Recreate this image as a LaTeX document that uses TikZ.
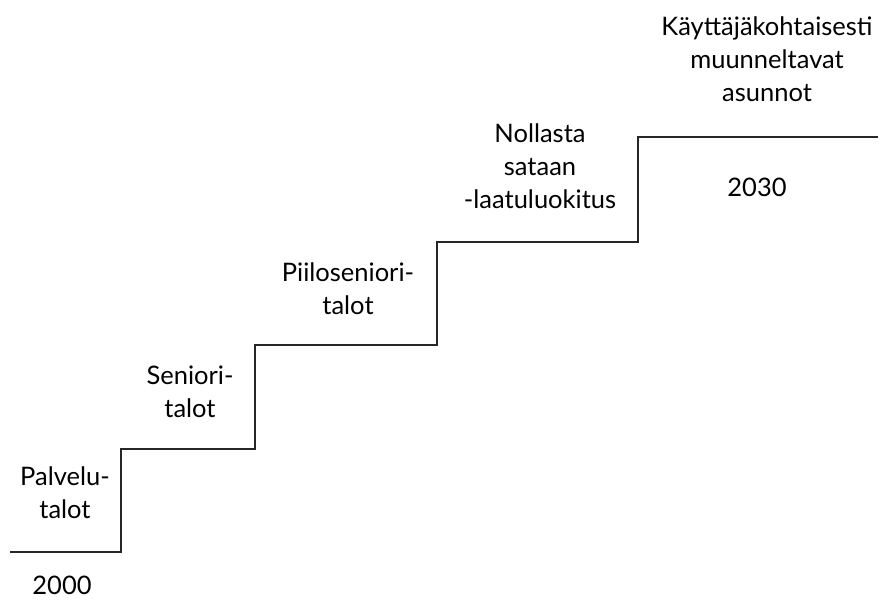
\documentclass[tikz,border=0pt]{standalone}
\usepackage{fontspec}
\setmainfont{Lato}
\begin{document}
\begin{tikzpicture}[x=1pt,y=-1pt,
  lbl/.style={align=center,anchor=base,inner sep=0pt,font=\fontsize{25.5}{33}\selectfont},
  stair/.style={line width=1.3pt,draw=black!85}]
\useasboundingbox (0,0) rectangle (883,607);
\coordinate (s0) at (10,552);
\coordinate (s1) at (121,552);
\coordinate (s2) at (121,449);
\coordinate (s3) at (255,449);
\coordinate (s4) at (255,345);
\coordinate (s5) at (437,345);
\coordinate (s6) at (437,242);
\coordinate (s7) at (638,242);
\coordinate (s8) at (638,137);
\coordinate (s9) at (878,137);
\draw[stair] (s0) -- (s1) -- (s2) -- (s3) -- (s4) -- (s5) -- (s6) -- (s7) -- (s8) -- (s9);
\node[lbl] (t1) at (65,518) {Palvelu-\\talot};
\node[lbl] (t2) at (190,417) {Seniori-\\talot};
\node[lbl] (t3) at (348,314) {Piiloseniori-\\talot};
\node[lbl] (t4) at (540,208) {Nollasta\\sataan\\-laatuluokitus};
\node[lbl] (t5) at (767,102) {Käyttäjäkohtaisesti\\muunneltavat\\asunnot};
\node[lbl] (y1) at (62,594) {2000};
\node[lbl] (y2) at (757,196) {2030};
\end{tikzpicture}
\end{document}
